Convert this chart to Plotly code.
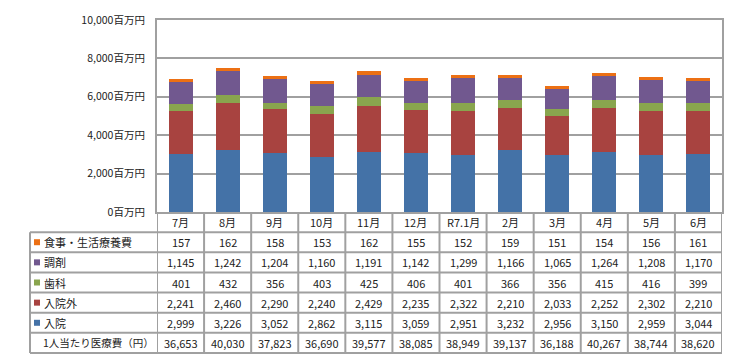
import plotly.graph_objects as go

months = ["7月", "8月", "9月", "10月", "11月", "12月", "R7.1月", "2月", "3月", "4月", "5月", "6月"]
nyuin = [2999, 3226, 3052, 2862, 3115, 3059, 2951, 3232, 2956, 3150, 2959, 3044]
nyuingai = [2241, 2460, 2290, 2240, 2429, 2235, 2322, 2210, 2033, 2252, 2302, 2210]
shika = [401, 432, 356, 403, 425, 406, 401, 366, 356, 415, 416, 399]
chozai = [1145, 1242, 1204, 1160, 1191, 1142, 1299, 1166, 1065, 1264, 1208, 1170]
shokuji = [157, 162, 158, 153, 162, 155, 152, 159, 151, 154, 156, 161]
per_capita = [36653, 40030, 37823, 36690, 39577, 38085, 38949, 39137, 36188, 40267, 38744, 38620]
y_ticks = [0, 2000, 4000, 6000, 8000, 10000]
y_tick_labels = [f"{v:,}百万円" for v in y_ticks]

series = [
    ("入院", nyuin, "#4472A7"),
    ("入院外", nyuingai, "#A84340"),
    ("歯科", shika, "#89A54E"),
    ("調剤", chozai, "#71588F"),
    ("食事・生活療養費", shokuji, "#EC7014"),
]
# table row order (top to bottom)
table_rows = [
    ("食事・生活療養費", shokuji, "#EC7014"),
    ("調剤", chozai, "#71588F"),
    ("歯科", shika, "#89A54E"),
    ("入院外", nyuingai, "#A84340"),
    ("入院", nyuin, "#4472A7"),
    ("1人当たり医療費（円）", per_capita, None),
]

W, H = 734, 364
ML, MR, MT, MB = 22, 20, 12, 19
PW, PH = W - ML - MR, H - MT - MB
PLOT_L, PLOT_B = 149, 204
FONT = "Noto Sans CJK JP"
GRID = "#a0a0a0"
TXT = "#222222"


def px_x(x):
    return (x - ML) / PW


def px_y(y):
    return (H - MB - y) / PH


fig = go.Figure()
for name, vals, col in series:
    fig.add_trace(go.Bar(x=months, y=vals, name=name, marker_color=col,
                         marker_line_width=0, width=0.51, hoverinfo="skip"))

nrows = 7
row_h = (H - MB - PLOT_B) / nrows
bounds = [PLOT_B + i * row_h for i in range(nrows + 1)]

shapes = []
# horizontal table lines
for b in bounds[1:]:
    shapes.append(dict(type="line", xref="paper", yref="paper", x0=0, x1=1,
                       y0=px_y(b), y1=px_y(b), line=dict(color=GRID, width=2)))
# left edge of label column
shapes.append(dict(type="line", xref="paper", yref="paper", x0=0, x1=0,
                   y0=px_y(bounds[1]), y1=px_y(bounds[-1]), line=dict(color=GRID, width=2)))
# category boundary lines
for i in range(len(months) + 1):
    shapes.append(dict(type="line", xref="x", yref="paper", x0=i - 0.5, x1=i - 0.5,
                       y0=px_y(bounds[0]), y1=px_y(bounds[-1]), line=dict(color=GRID, width=2)))

annotations = []
# header row (months)
for m in months:
    annotations.append(dict(x=m, xref="x", y=px_y((bounds[0] + bounds[1]) / 2), yref="paper",
                            text=m, showarrow=False, xanchor="center", yanchor="middle",
                            font=dict(family=FONT, size=11, color=TXT)))
for r, (label, vals, col) in enumerate(table_rows):
    yc = (bounds[r + 1] + bounds[r + 2]) / 2
    for m, v in zip(months, vals):
        annotations.append(dict(x=m, xref="x", y=px_y(yc), yref="paper", text=f"{v:,}",
                                showarrow=False, xanchor="center", yanchor="middle",
                                font=dict(family=FONT, size=11, color=TXT)))
    if col is not None:
        shapes.append(dict(type="rect", xref="paper", yref="paper", x0=px_x(26), x1=px_x(32),
                           y0=px_y(yc + 3), y1=px_y(yc - 3), fillcolor=col, line=dict(width=0)))
        tx, fs = 34, 11
    else:
        tx, fs = 33, 10.5
    annotations.append(dict(x=px_x(tx), xref="paper", y=px_y(yc), yref="paper", text=label,
                            showarrow=False, xanchor="left", yanchor="middle",
                            font=dict(family=FONT, size=fs, color=TXT)))

fig.update_layout(
    barmode="stack",
    width=W, height=H,
    margin=dict(l=ML, r=MR, t=MT, b=MB, autoexpand=False),
    paper_bgcolor="white", plot_bgcolor="white",
    showlegend=False,
    font=dict(family=FONT, size=11, color=TXT),
    xaxis=dict(type="category", domain=[px_x(PLOT_L), 1], range=[-0.5, len(months) - 0.5],
               showticklabels=False, showgrid=False, zeroline=False, ticks="",
               showline=True, linecolor=GRID, linewidth=2, mirror=True),
    yaxis=dict(domain=[px_y(PLOT_B), 1], range=[0, 10000], tickmode="array",
               tickvals=y_ticks, ticktext=y_tick_labels, showgrid=True, gridcolor=GRID, gridwidth=2,
               zeroline=False, showline=True, linecolor=GRID, linewidth=2, mirror=True,
               ticks="", ticklabelstandoff=8, tickfont=dict(family=FONT, size=10.5, color=TXT)),
    shapes=shapes,
    annotations=annotations,
)

fig.write_html("out.html")
